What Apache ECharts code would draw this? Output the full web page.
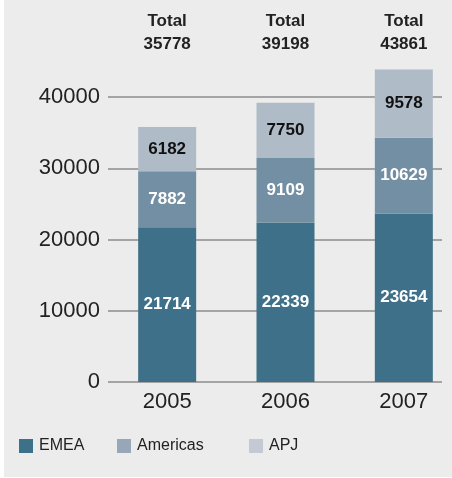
<!DOCTYPE html>
<html>
<head>
<meta charset="utf-8">
<script src="https://cdn.jsdelivr.net/npm/echarts@6/dist/echarts.min.js"></script>
<style>
html,body{margin:0;padding:0;background:#fff;}
#c{width:452px;height:478px;}
</style>
</head>
<body>
<div id="c"></div>
<script>
var categories = ['2005', '2006', '2007'];
var emea = [21714, 22339, 23654];
var americas = [7882, 9109, 10629];
var apj = [6182, 7750, 9578];
var yTicks = [0, 10000, 20000, 30000, 40000];

var totals = categories.map(function (_, i) { return emea[i] + americas[i] + apj[i]; });
var font = '"Liberation Sans", Arial, Helvetica, sans-serif';
var chart = echarts.init(document.getElementById('c'), null, {renderer: 'canvas'});

function legendAt(left, name, color) {
  return {
    left: left, top: 438, padding: 0, itemWidth: 14, itemHeight: 14, itemGap: 0,
    icon: 'rect', selectedMode: false,
    textStyle: {fontFamily: font, fontSize: 16, color: '#222', padding: [0, 0, 0, 1]},
    data: [{name: name, itemStyle: {color: color}}]
  };
}

var labelCommon = {show: true, position: 'inside', fontFamily: font, fontSize: 17, fontWeight: 'bold'};

chart.setOption({
  animation: false,
  backgroundColor: 'transparent',
  graphic: [{type: 'rect', z: -10, silent: true, shape: {x: 4, y: 0, width: 448, height: 477}, style: {fill: '#ebeceb'}}],
  grid: [
    {left: 108, right: 10, top: 97, bottom: 96, outerBoundsMode: 'none', containLabel: false},
    {left: 108, width: 355, top: 97, bottom: 96, outerBoundsMode: 'none', containLabel: false}
  ],
  xAxis: [
    {type: 'category', gridIndex: 0, data: categories, show: false},
    {type: 'category', gridIndex: 1, data: categories, position: 'bottom',
      axisLine: {show: false}, axisTick: {show: false},
      axisLabel: {fontFamily: font, fontSize: 22, color: '#222', margin: 9}},
    {type: 'category', gridIndex: 1, data: categories, position: 'top',
      axisLine: {show: false}, axisTick: {show: false},
      axisLabel: {fontFamily: font, fontSize: 17, fontWeight: 'bold', color: '#222', margin: 41, lineHeight: 23,
        formatter: function (v, i) { return 'Total\n' + totals[i]; }}}
  ],
  yAxis: [
    {type: 'value', gridIndex: 0, min: yTicks[0], max: yTicks[yTicks.length - 1], interval: 10000,
      axisLine: {show: false}, axisTick: {show: false},
      axisLabel: {fontFamily: font, fontSize: 22, color: '#222', margin: 8, formatter: function (v) { return String(v); }},
      splitLine: {lineStyle: {color: '#a4a4a4', width: 2}}},
    {type: 'value', gridIndex: 1, min: yTicks[0], max: yTicks[yTicks.length - 1], interval: 10000, show: false,
      splitLine: {show: false}}
  ],
  legend: [
    legendAt(19, 'EMEA', '#3d7189'),
    legendAt(117, 'Americas', '#97a7b7'),
    legendAt(249, 'APJ', '#c4cad4')
  ],
  series: [
    {name: 'EMEA', type: 'bar', stack: 't', xAxisIndex: 1, yAxisIndex: 1, barWidth: 58, clip: false,
      itemStyle: {color: '#3e7189'}, label: Object.assign({color: '#fff'}, labelCommon), data: emea},
    {name: 'Americas', type: 'bar', stack: 't', xAxisIndex: 1, yAxisIndex: 1, barWidth: 58, clip: false,
      itemStyle: {color: '#738fa3'}, label: Object.assign({color: '#fff'}, labelCommon), data: americas},
    {name: 'APJ', type: 'bar', stack: 't', xAxisIndex: 1, yAxisIndex: 1, barWidth: 58, clip: false,
      itemStyle: {color: '#b0bbc8'}, label: Object.assign({color: '#111'}, labelCommon), data: apj}
  ]
});
</script>
</body>
</html>
